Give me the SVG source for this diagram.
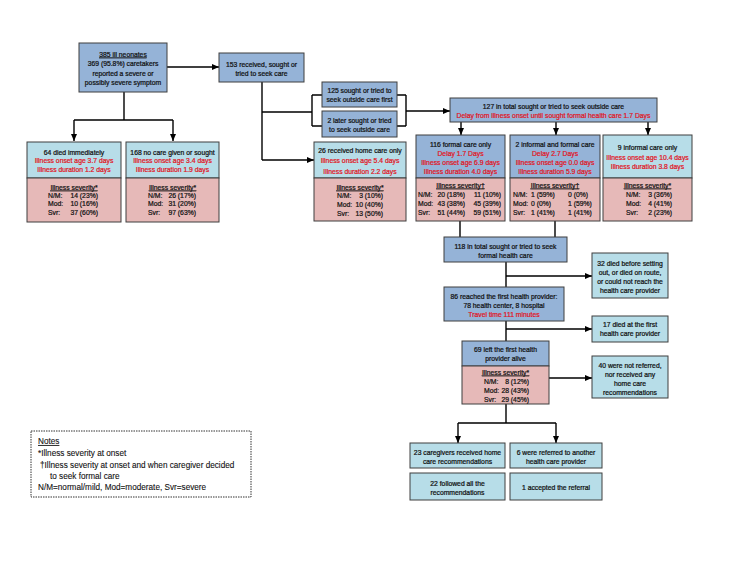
<svg xmlns="http://www.w3.org/2000/svg" width="733" height="566" viewBox="0 0 733 566">
<style>
text{font-family:"Liberation Sans",Arial,sans-serif;font-size:6.8px;fill:#111;stroke:#111;stroke-width:0.22;text-anchor:middle}
.r{fill:#e0141e;stroke:#e0141e}
.l{text-anchor:start}
.e{text-anchor:end}
.u{text-decoration:underline}
.b{fill:#95b3d7;stroke:#3f3f3f;stroke-width:1}
.c{fill:#b7dde8;stroke:#3f3f3f;stroke-width:1}
.p{fill:#e6b9b8;stroke:#3f3f3f;stroke-width:1}
.n{font-size:8.2px;stroke-width:0.1;text-anchor:start}
#connectors path{fill:none;stroke:#000;stroke-width:1.4}
</style>
<defs>
<marker id="ar" markerUnits="userSpaceOnUse" markerWidth="7" markerHeight="6" refX="7" refY="3" orient="auto">
<path d="M0,0 L7,3 L0,6 z" fill="#000"/>
</marker>
</defs>
<rect width="733" height="566" fill="#fff"/>

<g id="connectors">
<path d="M124,92 V120 M74,120 H173"/>
<path d="M74,120 V141" marker-end="url(#ar)"/>
<path d="M173,120 V141" marker-end="url(#ar)"/>
<path d="M167,67 H219" marker-end="url(#ar)"/>
<path d="M262,82 V160"/>
<path d="M262,160 H314" marker-end="url(#ar)"/>
<path d="M262,112 H312 M312,95 V126 M312,95 H322 M312,126 H322"/>
<path d="M397,95 H406 M397,126 H406 M406,95 V126"/>
<path d="M406,111 H450" marker-end="url(#ar)"/>
<path d="M461,122 V135" marker-end="url(#ar)"/>
<path d="M556,122 V135" marker-end="url(#ar)"/>
<path d="M648,122 V135" marker-end="url(#ar)"/>
<path d="M460,221 V237 M555,221 V237"/>
<path d="M506,262 V287"/>
<path d="M506,276 H592" marker-end="url(#ar)"/>
<path d="M506,321 V341"/>
<path d="M506,329 H592" marker-end="url(#ar)"/>
<path d="M549,378 H592" marker-end="url(#ar)"/>
<path d="M506,404 V423 M458,423 H556"/>
<path d="M458,423 V443" marker-end="url(#ar)"/>
<path d="M556,423 V443" marker-end="url(#ar)"/>
</g>

<g id="n385">
<rect class="b" x="79" y="43" width="88" height="49"/>
<text x="123" y="56.5" class="u">385 ill neonates</text>
<text x="123" y="66">369 (95.8%) caretakers</text>
<text x="123" y="75.5">reported a severe or</text>
<text x="123" y="85">possibly severe symptom</text>
</g>

<g id="n64">
<rect class="c" x="27" y="142" width="94" height="36"/>
<rect class="p" x="27" y="178" width="94" height="44"/>
<text x="74" y="154.5">64 died immediately</text>
<text x="74" y="163" class="r">Illness onset age 3.7 days</text>
<text x="74" y="171.5" class="r">Illness duration 1.2 days</text>
<text x="74" y="189.5" class="u">Illness severity*</text>
<text x="48" y="197.5" class="l">N/M:</text><text x="98" y="197.5" class="e">14 (23%)</text>
<text x="48" y="206" class="l">Mod:</text><text x="98" y="206" class="e">10 (16%)</text>
<text x="48" y="214.5" class="l">Svr:</text><text x="98" y="214.5" class="e">37 (60%)</text>
</g>

<g id="n168">
<rect class="c" x="126" y="142" width="93" height="36"/>
<rect class="p" x="126" y="178" width="93" height="44"/>
<text x="172.5" y="154.5">168 no care given or sought</text>
<text x="172.5" y="163" class="r">Illness onset age 3.4 days</text>
<text x="172.5" y="171.5" class="r">Illness duration 1.9 days</text>
<text x="172.5" y="189.5" class="u">Illness severity*</text>
<text x="148" y="197.5" class="l">N/M:</text><text x="196" y="197.5" class="e">26 (17%)</text>
<text x="148" y="206" class="l">Mod:</text><text x="196" y="206" class="e">31 (20%)</text>
<text x="148" y="214.5" class="l">Svr:</text><text x="196" y="214.5" class="e">97 (63%)</text>
</g>

<g id="n153">
<rect class="b" x="219" y="53" width="85" height="29"/>
<text x="261.5" y="66.5">153 received, sought or</text>
<text x="261.5" y="75.5">tried to seek care</text>
</g>

<g id="n125">
<rect class="b" x="322" y="82" width="75" height="25"/>
<text x="359.5" y="92.5">125 sought or tried to</text>
<text x="359.5" y="101.5">seek outside care first</text>
</g>

<g id="n2later">
<rect class="b" x="322" y="111" width="75" height="26"/>
<text x="359.5" y="122.5">2 later sought or tried</text>
<text x="359.5" y="132">to seek outside care</text>
</g>

<g id="n26">
<rect class="c" x="314" y="142" width="92" height="36"/>
<rect class="p" x="314" y="178" width="92" height="43"/>
<text x="360" y="152.5">26 received home care only</text>
<text x="360" y="163" class="r">Illness onset age 5.4 days</text>
<text x="360" y="173.5" class="r">Illness duration 2.2 days</text>
<text x="360" y="189.5" class="u">Illness severity*</text>
<text x="337" y="198" class="l">N/M:</text><text x="383" y="198" class="e">3 (10%)</text>
<text x="337" y="207" class="l">Mod:</text><text x="383" y="207" class="e">10 (40%)</text>
<text x="337" y="216" class="l">Svr:</text><text x="383" y="216" class="e">13 (50%)</text>
</g>

<g id="n127">
<rect class="b" x="450" y="98" width="207" height="24"/>
<text x="553.5" y="108.5">127 in total sought or tried to seek outside care</text>
<text x="553.5" y="117.5" class="r">Delay from illness onset until sought formal health care 1.7 Days</text>
</g>

<g id="n116">
<rect class="b" x="416" y="135" width="89" height="43"/>
<rect class="p" x="416" y="178" width="89" height="43"/>
<text x="460.5" y="146.5">116 formal care only</text>
<text x="460.5" y="155.5" class="r">Delay 1.7 Days</text>
<text x="460.5" y="164.5" class="r">Illness onset age 6.9 days</text>
<text x="460.5" y="173.5" class="r">Illness duration 4.0 days</text>
<text x="460.5" y="187.5" class="u">Illness severity†</text>
<text x="418" y="196.5" class="l">N/M:</text><text x="465" y="196.5" class="e">20 (18%)</text><text x="501" y="196.5" class="e">11 (10%)</text>
<text x="418" y="205.5" class="l">Mod:</text><text x="465" y="205.5" class="e">43 (38%)</text><text x="501" y="205.5" class="e">45 (39%)</text>
<text x="418" y="214.5" class="l">Svr:</text><text x="465" y="214.5" class="e">51 (44%)</text><text x="501" y="214.5" class="e">59 (51%)</text>
</g>

<g id="n2informal">
<rect class="b" x="510" y="135" width="90" height="43"/>
<rect class="p" x="510" y="178" width="90" height="43"/>
<text x="555" y="146.5">2 informal and formal care</text>
<text x="555" y="155.5" class="r">Delay 2.7 Days</text>
<text x="555" y="164.5" class="r">Illness onset age 0.0 days</text>
<text x="555" y="173.5" class="r">Illness duration 5.9 days</text>
<text x="555" y="187.5" class="u">Illness severity†</text>
<text x="513" y="196.5" class="l">N/M:</text><text x="531" y="196.5" class="l">1 (59%)</text><text x="568" y="196.5" class="l">0 (0%)</text>
<text x="513" y="205.5" class="l">Mod:</text><text x="531" y="205.5" class="l">0 (0%)</text><text x="568" y="205.5" class="l">1 (59%)</text>
<text x="513" y="214.5" class="l">Svr:</text><text x="531" y="214.5" class="l">1 (41%)</text><text x="568" y="214.5" class="l">1 (41%)</text>
</g>

<g id="n9">
<rect class="c" x="603" y="135" width="89" height="43"/>
<rect class="p" x="603" y="178" width="89" height="43"/>
<text x="647.5" y="149.5">9 informal care only</text>
<text x="647.5" y="159.5" class="r">Illness onset age 10.4 days</text>
<text x="647.5" y="168.5" class="r">Illness duration 3.8 days</text>
<text x="647.5" y="187.5" class="u">Illness severity*</text>
<text x="626" y="196.5" class="l">N/M:</text><text x="672" y="196.5" class="e">3 (36%)</text>
<text x="626" y="205.5" class="l">Mod:</text><text x="672" y="205.5" class="e">4 (41%)</text>
<text x="626" y="214.5" class="l">Svr:</text><text x="672" y="214.5" class="e">2 (23%)</text>
</g>

<g id="n118">
<rect class="b" x="444" y="237" width="123" height="25"/>
<text x="505.5" y="248.5">118 in total sought or tried to seek</text>
<text x="505.5" y="257.5">formal health care</text>
</g>

<g id="n32">
<rect class="c" x="592" y="253" width="76" height="45"/>
<text x="630" y="265.5">32 died before setting</text>
<text x="630" y="274.5">out, or died on route,</text>
<text x="630" y="283.5">or could not reach the</text>
<text x="630" y="292.5">health care provider</text>
</g>

<g id="n86">
<rect class="b" x="444" y="287" width="120" height="34"/>
<text x="504" y="298.5">86 reached the first health provider:</text>
<text x="504" y="307.5">78 health center, 8 hospital</text>
<text x="504" y="316.5" class="r">Travel time 111 minutes</text>
</g>

<g id="n17">
<rect class="c" x="592" y="316" width="76" height="26"/>
<text x="630" y="326.5">17 died at the first</text>
<text x="630" y="335.5">health care provider</text>
</g>

<g id="n69">
<rect class="b" x="462" y="341" width="87" height="25"/>
<rect class="p" x="462" y="366" width="87" height="38"/>
<text x="505.5" y="351.5">69 left the first health</text>
<text x="505.5" y="361">provider alive</text>
<text x="505.5" y="374.5" class="u">Illness severity*</text>
<text x="484" y="383.5" class="l">N/M:</text><text x="529" y="383.5" class="e">8 (12%)</text>
<text x="484" y="392.5" class="l">Mod:</text><text x="529" y="392.5" class="e">28 (43%)</text>
<text x="484" y="401.5" class="l">Svr:</text><text x="529" y="401.5" class="e">29 (45%)</text>
</g>

<g id="n40">
<rect class="c" x="592" y="356" width="76" height="42"/>
<text x="630" y="367.5">40 were not referred,</text>
<text x="630" y="376.5">nor received any</text>
<text x="630" y="385.5">home care</text>
<text x="630" y="394.5">recommendations</text>
</g>

<g id="n23">
<rect class="c" x="410" y="443" width="95" height="25"/>
<text x="457.5" y="454.5">23 caregivers received home</text>
<text x="457.5" y="463.5">care recommendations</text>
</g>

<g id="n6">
<rect class="c" x="510" y="443" width="92" height="25"/>
<text x="556" y="454.5">6 were referred to another</text>
<text x="556" y="463.5">health care provider</text>
</g>

<g id="n22">
<rect class="c" x="410" y="473" width="95" height="27"/>
<text x="457.5" y="485.5">22 followed all the</text>
<text x="457.5" y="494.5">recommendations</text>
</g>

<g id="n1">
<rect class="c" x="510" y="473" width="92" height="27"/>
<text x="556" y="489.5">1 accepted the referral</text>
</g>

<g id="notes">
<rect x="31" y="431" width="220" height="66" fill="#fff" stroke="#333" stroke-width="1" stroke-dasharray="1.5 1"/>
<text x="38" y="444" class="n u">Notes</text>
<text x="38" y="456" class="n">*Illness severity at onset</text>
<text x="40" y="467.5" class="n">†Illness severity at onset and when caregiver decided</text>
<text x="50" y="478.5" class="n">to seek formal care</text>
<text x="38" y="490" class="n">N/M=normal/mild, Mod=moderate, Svr=severe</text>
</g>
</svg>
